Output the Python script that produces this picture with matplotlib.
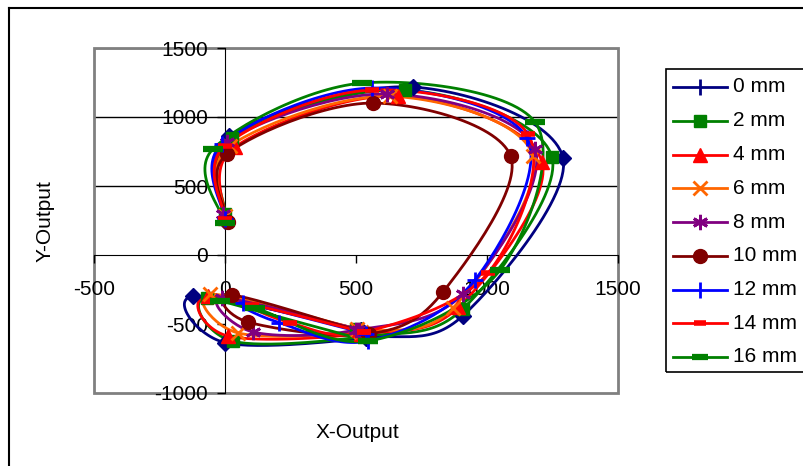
import numpy as np
import matplotlib
matplotlib.use("Agg")
import matplotlib.pyplot as plt
from matplotlib.lines import Line2D
from matplotlib.patches import Rectangle

plt.rcParams['font.family'] = ['Liberation Sans', 'DejaVu Sans']

labels = ["0 mm", "2 mm", "4 mm", "6 mm", "8 mm", "10 mm", "12 mm", "14 mm", "16 mm"]

# Each series: points along the path (x, y)
x_0mm  = [0, 15, 718, 1290, 908, 540, 0, -122, 520]
y_0mm  = [250, 860, 1217, 703, -440, -600, -635, -300, -540]
x_2mm  = [0, 27, 687, 1248, 908, 530, 30, -69, 500]
y_2mm  = [300, 850, 1196, 710, -390, -590, -625, -310, -536]
x_4mm  = [0, 38, 660, 1210, 890, 520, 11, -65, 510]
y_4mm  = [270, 783, 1152, 674, -380, -570, -587, -300, -540]
x_6mm  = [0, 19, 630, 1176, 870, 520, 50, -57, 505]
y_6mm  = [280, 790, 1150, 720, -384, -555, -565, -283, -536]
x_8mm  = [-8, 8, 618, 1183, 908, 500, 107, -11, 510]
y_8mm  = [297, 819, 1167, 768, -283, -545, -558, -312, -540]
x_10mm = [11, 8, 565, 1090, 832, 550, 88, 27, 545]
y_10mm = [240, 732, 1101, 717, -268, -572, -486, -290, -570]
x_12mm = [0, -11, 561, 1153, 954, 546, 206, 69, 540]
y_12mm = [260, 804, 1210, 848, -181, -623, -490, -348, -570]
x_14mm = [0, 0, 561, 1156, 1004, 530, 248, 103, 530]
y_14mm = [260, 790, 1196, 877, -130, -560, -490, -362, -560]
x_16mm = [0, -46, 523, 1183, 1050, 546, 115, -20, 546]
y_16mm = [232, 768, 1246, 964, -109, -623, -384, -330, -623]

xs = [x_0mm, x_2mm, x_4mm, x_6mm, x_8mm, x_10mm, x_12mm, x_14mm, x_16mm]
ys = [y_0mm, y_2mm, y_4mm, y_6mm, y_8mm, y_10mm, y_12mm, y_14mm, y_16mm]

colors = ["#000080", "#008000", "#FF0000", "#FF6600", "#800080",
          "#800000", "#0000FF", "#FF0000", "#008000"]
asterisk = (6, 2, 0)
markers = ["D", "s", "^", "x", asterisk, "o", "+", "_", "_"]
msizes = [8, 9, 10, 10, 11, 10, 11, 10, 14]
mews = [1, 1, 1, 2, 2, 1, 2, 4, 4.5]
leg_markers = ["|", "s", "^", "x", asterisk, "o", "|", "_", "_"]
leg_msizes = [11, 9, 10, 10, 11, 10, 11, 8, 11]


def smooth(x, y, n=30):
    P = np.column_stack([x, y]).astype(float)
    m = len(P)
    out = []
    for i in range(m - 1):
        p0 = P[i - 1] if i > 0 else P[i]
        p1 = P[i]
        p2 = P[i + 1]
        p3 = P[i + 2] if i + 2 < m else P[i + 1]
        c1 = p1 + (p2 - p0) / 6.0
        c2 = p2 - (p3 - p1) / 6.0
        t = np.linspace(0, 1, n)[:, None]
        seg = ((1 - t) ** 3) * p1 + 3 * ((1 - t) ** 2) * t * c1 + 3 * (1 - t) * t ** 2 * c2 + t ** 3 * p2
        out.append(seg if i == 0 else seg[1:])
    S = np.vstack(out)
    return S[:, 0], S[:, 1]


W, H = 804, 466
FS = 15
fig = plt.figure(figsize=(W / 100, H / 100), dpi=100)
ax = fig.add_axes([94 / W, 1 - 393 / H, (618 - 94) / W, (393 - 48) / H])
ax.set_xlim(-500, 1500)
ax.set_ylim(-1000, 1500)

for v in [500, 1000, 1500]:
    ax.axhline(v, color="black", lw=1, zorder=1)

for x, y, c, mk, ms, mw in zip(xs, ys, colors, markers, msizes, mews):
    sx, sy = smooth(x, y)
    ax.plot(sx, sy, color=c, lw=2, zorder=3, solid_capstyle='round')
    ax.plot(x, y, ls='none', marker=mk, ms=ms, color=c, mec=c, mfc=c, mew=mw, zorder=4)

ax.spines['left'].set_position(('data', 0))
ax.spines['bottom'].set_position(('data', 0))
ax.spines['left'].set_zorder(2)
ax.spines['bottom'].set_zorder(2)
ax.spines['top'].set_visible(False)
ax.spines['right'].set_visible(False)
ax.add_patch(Rectangle((0, 0), 1, 1, transform=ax.transAxes, fill=False,
                       ec="#808080", lw=2, zorder=1, clip_on=False))
ax.set_xticks([-500, 0, 500, 1000, 1500])
ax.set_yticks([-1000, -500, 0, 500, 1000, 1500])
ax.set_xticklabels(["-500", "0", "500", "1000", "1500"])
ax.set_yticklabels(["-1000", "-500", "0", "500", "1000", "1500"])
ax.tick_params(axis='both', direction='out', length=6, width=1, labelsize=FS, color='black')
ax.tick_params(axis='x', pad=12)
ax.tick_params(axis='y', pad=6)

fig.text(357 / W, 1 - 432 / H, "X-Output", ha='center', va='center', fontsize=FS)
fig.text(45 / W, 1 - 221 / H, "Y-Output", ha='center', va='center', rotation=90, fontsize=FS)

# outer chart border
fig.add_artist(Line2D([9 / W, 9 / W], [0, 1 - 8 / H], color='black', lw=1.5, transform=fig.transFigure))
fig.add_artist(Line2D([9 / W, 1], [1 - 8 / H, 1 - 8 / H], color='black', lw=1.5, transform=fig.transFigure))

# legend
fig.add_artist(Rectangle((666 / W, 1 - 372 / H), (820 - 666) / W, (372 - 69) / H,
                         transform=fig.transFigure, fill=False, ec='black', lw=1.2))
for i, (lab, c, mk, ms, mw) in enumerate(zip(labels, colors, leg_markers, leg_msizes, mews)):
    yy = 1 - (87 + i * 33.75) / H
    fig.add_artist(Line2D([673 / W, 727 / W], [yy, yy], color=c, lw=2, transform=fig.transFigure))
    fig.add_artist(Line2D([700 / W], [yy], color=c, marker=mk, ms=ms,
                          mew=max(mw, 2) if mk in ['|', '_', 'x', '+'] else mw,
                          mfc=c, mec=c, transform=fig.transFigure))
    fig.text(733 / W, yy, lab, ha='left', va='center', fontsize=FS)

fig.savefig("out.png", dpi=100)
